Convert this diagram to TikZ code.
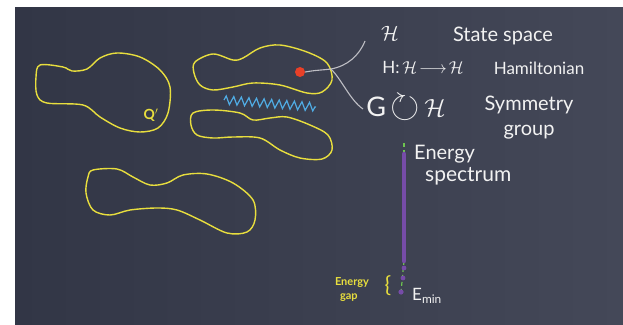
\documentclass[tikz,border=0pt]{standalone}
\usepackage{amsmath}
\usepackage{amssymb}
\usepackage{fontspec}
\setmainfont{Lato}
\usetikzlibrary{positioning, calc, decorations.pathmorphing}

\definecolor{boardL}{RGB}{50,54,70}
\definecolor{boardR}{RGB}{68,72,88}
\definecolor{chalk}{RGB}{242,242,242}
\definecolor{chalkyellow}{RGB}{232,222,62}
\definecolor{chalkblue}{RGB}{80,172,228}
\definecolor{chalkgray}{RGB}{190,190,196}
\definecolor{dotred}{RGB}{232,64,40}
\definecolor{specpurple}{RGB}{118,76,168}
\definecolor{specgreen}{RGB}{110,196,80}

\begin{document}
\begin{tikzpicture}[x=1pt, y=-1pt,
  blob/.style={draw=chalkyellow, line width=1.4pt},
  wiggle/.style={draw=chalkblue, line width=1.2pt, decorate, decoration={zigzag, segment length=7.6pt, amplitude=4.2pt}},
  dot/.style={circle, fill=dotred, minimum size=10pt, inner sep=0pt},
  link/.style={draw=chalkgray, line width=1.1pt},
  label/.style={text=chalk, font=\fontsize{17}{24}\selectfont, inner sep=0pt},
  biglabel/.style={text=chalk, font=\fontsize{20}{25}\selectfont, inner sep=0pt},
  note/.style={text=chalkyellow, font=\fontsize{11}{14}\selectfont\bfseries, inner sep=0pt}]
\useasboundingbox (0,0) rectangle (623,324);
\fill[white] (0,0) rectangle (623,324);
\shade[left color=boardL, right color=boardR] (15,7) rectangle (623,324);

% configuration space pieces
\draw[blob] plot[smooth cycle, tension=0.55] coordinates {(40,65) (63,67) (72,71) (87,69) (100,58) (117,53) (140,57) (160,70) (170,87) (168,113) (158,128) (140,132) (120,128) (100,117) (83,105) (47,103) (37,95) (36,77)};
\draw[blob] plot[smooth cycle, tension=0.55] coordinates {(195,62) (213,54) (233,60) (243,58) (260,48) (280,45) (307,52) (327,63) (332,80) (322,92) (307,93) (280,85) (253,83) (233,87) (213,90) (200,85) (194,73)};
\draw[blob] plot[smooth cycle, tension=0.55] coordinates {(193,113) (213,110) (240,113) (253,120) (270,118) (287,117) (310,125) (328,135) (332,150) (322,159) (300,158) (280,150) (260,138) (233,137) (213,138) (197,135) (191,125)};
\draw[blob] plot[smooth cycle, tension=0.55] coordinates {(93,170) (117,169) (133,177) (150,185) (167,183) (183,175) (207,174) (233,183) (253,200) (255,220) (247,232) (227,233) (200,220) (177,210) (157,208) (130,210) (110,215) (93,210) (86,193) (88,177)};
\node[note, font=\fontsize{14}{14}\selectfont\bfseries] (qprime) at (151,115) {Q$'$};
\draw[wiggle] (224,100) -- (316,107);

% state and its labels
\node[dot] (state) at (300,72) {};
\node[label, font=\fontsize{22}{24}\selectfont] (hspace) at (390,33) {$\mathcal{H}$};
\node[biglabel] (statespace) at (503,36) {State space};
\node[label] (hmap) at (423,67) {H:\,$\mathcal{H}\!\longrightarrow\!\mathcal{H}$};
\node[label] (hamilton) at (539,68) {Hamiltonian};
\node[text=chalk, font=\fontsize{27}{30}\selectfont, inner sep=0pt] (gact) at (406,108) {G\,\raisebox{-1pt}{\scalebox{1.4}{$\circlearrowright$}}\,$\mathcal{H}$};
\node[biglabel, align=center] (symgroup) at (529,118) {Symmetry\\group};
\coordinate (fork) at (331,69);
\coordinate (spaceend) at (365,41);
\coordinate (groupend) at (363,109);
\draw[link] (state.east) .. controls (316,70) and (324,70) .. (fork) .. controls (347,66) and (359,56) .. (spaceend);
\draw[link] (fork) .. controls (342,80) and (350,100) .. (groupend);

% energy spectrum
\coordinate (spectop) at (404,143);
\coordinate (bandtop) at (404,154);
\coordinate (bandbot) at (404,261);
\coordinate (emin) at (401,292);
\draw[specgreen, line width=1.2pt, dashed, dash pattern=on 4pt off 3pt] (spectop) -- (bandtop);
\draw[specgreen, line width=1.2pt, dashed, dash pattern=on 4pt off 3pt] (bandbot) -- (emin);
\draw[specpurple, line width=4.5pt, line cap=round] (bandtop) -- (bandbot);
\fill[specpurple] (404,268) circle (2.4pt) (403,278) circle (2.4pt) (emin) circle (2.6pt);
\node[biglabel, anchor=west] (energy) at (414,154) {Energy};
\node[biglabel, font=\fontsize{21}{25}\selectfont, anchor=west] (spectrum) at (425,176) {spectrum};
\node[label, anchor=west] (eminlabel) at (412,296) {E$_{\text{min}}$};
\node[text=chalkyellow, font=\fontsize{22}{24}\selectfont, inner sep=0pt] (brace) at (388,286) {\{};
\node[note, align=left] (gap) at (352,290) {Energy\\\hspace{5pt}gap};
\end{tikzpicture}
\end{document}
